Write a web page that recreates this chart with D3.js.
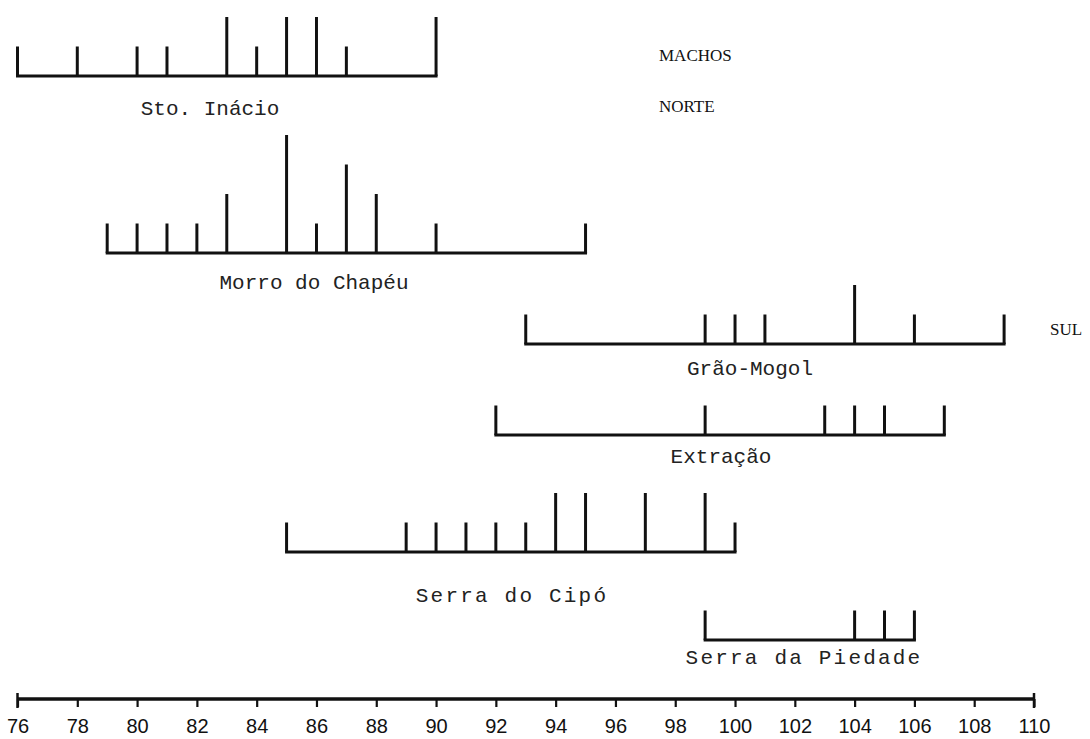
<!DOCTYPE html>
<html>
<head>
<meta charset="utf-8">
<script src="https://cdn.jsdelivr.net/npm/d3@7"></script>
<style>
  html, body { margin: 0; padding: 0; background: #fff; }
  svg { display: block; }
</style>
</head>
<body>
<script>
// ---------- data ----------
const axisTicks = [76,78,80,82,84,86,88,90,92,94,96,98,100,102,104,106,108,110];

const sites = ["Sto. Inácio", "Morro do Chapéu", "Grão-Mogol", "Extração", "Serra do Cipó", "Serra da Piedade"];

const stoInacioValues   = [76,78,80,81,83,84,85,86,87,90];
const stoInacioCounts   = [ 1, 1, 1, 1, 2, 1, 2, 2, 1, 2];

const morroValues       = [79,80,81,82,83,85,86,87,88,90,95];
const morroCounts       = [ 1, 1, 1, 1, 2, 4, 1, 3, 2, 1, 1];

const graoMogolValues   = [93,99,100,101,104,106,109];
const graoMogolCounts   = [ 1, 1,  1,  1,  2,  1,  1];

const extracaoValues    = [92,99,103,104,105,107];
const extracaoCounts    = [ 1, 1,  1,  1,  1,  1];

const cipoValues        = [85,89,90,91,92,93,94,95,97,99,100];
const cipoCounts        = [ 1, 1, 1, 1, 1, 1, 2, 2, 2, 2,  1];

const piedadeValues     = [99,104,105,106];
const piedadeCounts     = [ 1,  1,  1,  1];

const groupLabels = ["MACHOS", "NORTE", "SUL"];

// ---------- drawing ----------
const W = 1090, H = 739;
const svg = d3.select("body").append("svg").attr("width", W).attr("height", H);

const x = d3.scaleLinear().domain([76, 110]).range([17.5, 1034]);
const h = d3.scaleLinear().domain([0, 4]).range([0, 118]);

const series = [
  {name: sites[0], values: stoInacioValues, counts: stoInacioCounts},
  {name: sites[1], values: morroValues,     counts: morroCounts},
  {name: sites[2], values: graoMogolValues, counts: graoMogolCounts},
  {name: sites[3], values: extracaoValues,  counts: extracaoCounts},
  {name: sites[4], values: cipoValues,      counts: cipoCounts},
  {name: sites[5], values: piedadeValues,   counts: piedadeCounts}
];

// layout per row: baseline y, label centre x, label baseline y, letter spacing
const layout = [
  {y: 76,  lx: 210, ly: 115, ls: 0},
  {y: 253, lx: 314, ly: 289, ls: 0},
  {y: 344, lx: 750, ly: 375, ls: 0},
  {y: 435, lx: 721, ly: 463, ls: 0},
  {y: 552, lx: 512, ly: 602, ls: 2.2},
  {y: 640, lx: 804, ly: 664, ls: 2.2}
];

const ink = "#111";

series.forEach((s, i) => {
  const L = layout[i];
  const g = svg.append("g");
  const ext = d3.extent(s.values);
  g.append("line")
    .attr("x1", x(ext[0]) - 1.5).attr("x2", x(ext[1]) + 1.5)
    .attr("y1", L.y).attr("y2", L.y)
    .attr("stroke", ink).attr("stroke-width", 3);
  g.selectAll("line.tk").data(s.values.map((v, j) => ({v, c: s.counts[j]})))
    .join("line").attr("class", "tk")
    .attr("x1", d => x(d.v)).attr("x2", d => x(d.v))
    .attr("y1", L.y).attr("y2", d => L.y - h(d.c))
    .attr("stroke", ink).attr("stroke-width", 3);
  g.append("text")
    .attr("x", L.lx).attr("y", L.ly)
    .attr("text-anchor", "middle")
    .attr("font-family", "'Liberation Mono', 'Courier New', monospace")
    .attr("font-size", 21)
    .attr("letter-spacing", L.ls)
    .attr("fill", "#222")
    .text(s.name);
});

// group labels
const glPos = [{x: 659, y: 61}, {x: 659, y: 112}, {x: 1050, y: 335}];
svg.selectAll("text.grp").data(groupLabels).join("text").attr("class", "grp")
  .attr("x", (d, i) => glPos[i].x).attr("y", (d, i) => glPos[i].y)
  .attr("font-family", "'Liberation Serif', 'Times New Roman', serif")
  .attr("font-size", 17)
  .attr("fill", "#111")
  .text(d => d);

// bottom axis
const axisY = 699;
const axis = d3.axisBottom(x).tickValues(axisTicks).tickSize(8).tickPadding(12).tickFormat(d3.format("d"));
const ag = svg.append("g").attr("transform", `translate(0,${axisY})`).call(axis);
ag.select(".domain").remove();
ag.append("line").attr("x1", x(76)).attr("x2", x(110)).attr("y1", 0).attr("y2", 0)
  .attr("stroke", ink).attr("stroke-width", 3.5);
ag.selectAll(".tick line").attr("stroke", ink).attr("stroke-width", 2.2);
ag.selectAll(".tick text")
  .attr("font-family", "'Liberation Sans', Arial, sans-serif")
  .attr("font-size", 20).attr("fill", "#111");
// end caps of the axis
[76, 110].forEach(v => {
  ag.append("line").attr("x1", x(v)).attr("x2", x(v)).attr("y1", -6).attr("y2", 9)
    .attr("stroke", ink).attr("stroke-width", 2.5);
});
</script>
</body>
</html>
